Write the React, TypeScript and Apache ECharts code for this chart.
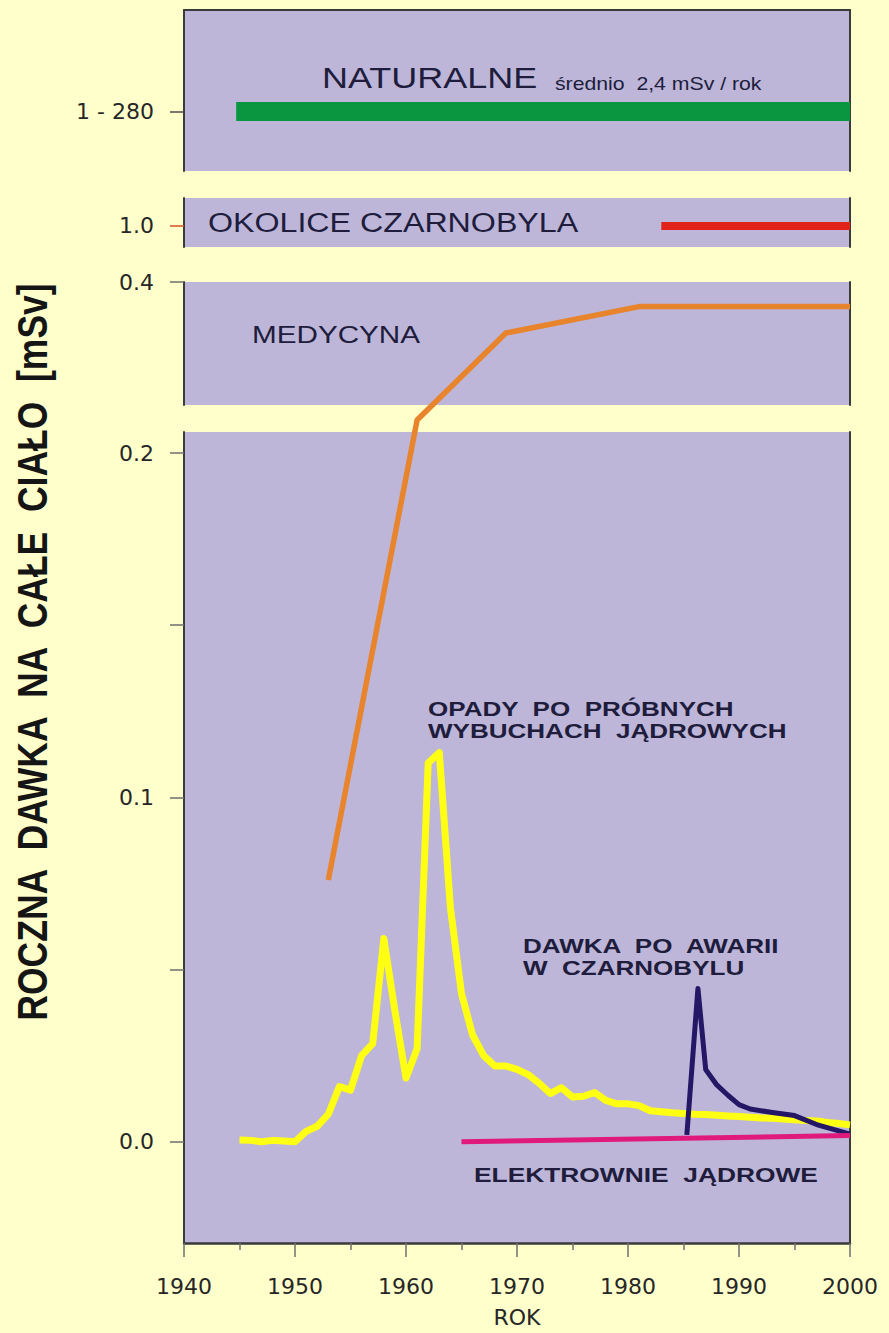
import React, { useEffect, useRef } from "react";
import * as echarts from "echarts";

// ---------- data ----------
const xTickYears = [1940, 1950, 1960, 1970, 1980, 1990, 2000];

const naturalTickLabel = ["1 - 280"];
const naturalYears = [1944.7, 2000];
const naturalLevel = [0.37, 0.37];

const chernobylAreaTickLabel = ["1.0"];
const chernobylAreaYears = [1983, 2000];
const chernobylAreaLevel = [0.43, 0.43];

const medicineYears = [1953, 1961, 1969, 1981, 2000];
const medicineDose = [0.076, 0.248, 0.3585, 0.38, 0.38];

const falloutYears = [
  1945, 1946, 1947, 1948, 1949, 1950, 1951, 1952, 1953, 1954, 1955, 1956, 1957, 1958, 1959,
  1960, 1961, 1962, 1963, 1964, 1965, 1966, 1967, 1968, 1969, 1970, 1971, 1972, 1973, 1974,
  1975, 1976, 1977, 1978, 1979, 1980, 1981, 1982, 1983, 1984, 1985, 1986, 1987, 1988, 1989,
  1990, 1991, 1992, 1993, 1994, 1995, 1996, 1997, 1998, 1999, 2000,
];
const falloutDose = [
  0.0005, 0.0004, 0.0, 0.0004, 0.0002, 0.0, 0.003, 0.0045, 0.008, 0.016, 0.015, 0.025, 0.0285, 0.059, 0.038,
  0.0185, 0.027, 0.11, 0.113, 0.068, 0.043, 0.031, 0.025, 0.022, 0.022, 0.021, 0.0195, 0.017, 0.014, 0.0157,
  0.013, 0.0132, 0.0143, 0.012, 0.011, 0.011, 0.0105, 0.009, 0.0087, 0.0084, 0.0082, 0.008, 0.0079, 0.0077, 0.0075,
  0.0073, 0.0071, 0.0069, 0.0068, 0.0066, 0.0064, 0.0062, 0.006, 0.0056, 0.0053, 0.0049,
];

const accidentYears = [1985.3, 1986.3, 1987, 1988, 1989, 1990, 1991, 1993, 1995, 1997, 2000];
const accidentDose = [0.002, 0.0445, 0.021, 0.0165, 0.0135, 0.0108, 0.0095, 0.0085, 0.0076, 0.005, 0.0022];

const nuclearYears = [1965, 2000];
const nuclearDose = [0.0, 0.0018];

const lowerTicks = [0, 0.05, 0.1, 0.15, 0.2];
const lowerLabels = [0, 0.1, 0.2];
const upperLabels = [0.4];

// ---------- layout / style ----------
const BG = "#FFFFCC";
const PANEL = "#BDB6D9";
const AXIS = "#3a3a3a";
const TICK = "#6e6e6e";
const TEXT = "#201c3c";
const LABEL = "#262626";
const FONT = "'Liberation Sans', Arial, Helvetica, sans-serif";
const AXFONT = "'DejaVu Sans', sans-serif";

const LEFT = 184;
const RIGHT = 889 - 850;
const LOWER_TOP = 432;
const LOWER_H = 811;
const UPPER_TOP = 282;
const UPPER_H = 123;
const GAP_PX = LOWER_TOP - (UPPER_TOP + UPPER_H);
const LOWER_MIN = -0.0294;
const LOWER_MAX = 0.2061;
const UPPER_MIN = 0.3;
const UPPER_MAX = 0.4;

// map a dose onto the lower (broken) axis so a line can cross the break
function toLower(v: number): number {
  const ppu = LOWER_H / (LOWER_MAX - LOWER_MIN);
  if (v <= LOWER_MAX) return v;
  if (v <= UPPER_MIN) return LOWER_MAX + ((v - LOWER_MAX) / (UPPER_MIN - LOWER_MAX)) * GAP_PX / ppu;
  return LOWER_MAX + (GAP_PX + ((v - UPPER_MIN) / (UPPER_MAX - UPPER_MIN)) * UPPER_H) / ppu;
}

const zip = (xs: number[], ys: number[]) => xs.map((x, i) => [x, ys[i]]);

function buildOption() {
  const gridBase = {
    left: LEFT,
    right: RIGHT,
    show: true,
    backgroundColor: PANEL,
    borderWidth: 0,
    containLabel: false,
    outerBoundsMode: "none",
  };
  const xBase = { type: "value", min: 1940, max: 2000, splitLine: { show: false } };
  const edge = { show: true, onZero: false, lineStyle: { color: AXIS, width: 2 } };
  const rightAxis = (gridIndex: number) => ({
    type: "value",
    gridIndex,
    position: "right",
    axisLine: edge,
    axisTick: { show: false },
    axisLabel: { show: false },
    splitLine: { show: false },
  });
  const labelStyle = { fontFamily: AXFONT, fontSize: 22, color: LABEL, margin: 30 };

  const lineSeries = (name: string, xi: number, data: number[][], color: string, width: number, z: number, clip = true) => ({
    name,
    type: "line",
    xAxisIndex: xi,
    yAxisIndex: xi * 2,
    data,
    symbol: "none",
    showSymbol: false,
    clip,
    z,
    silent: true,
    lineStyle: { color, width, cap: "butt", join: "round" },
  });

  const text = (t: string, x: number, y: number, fs: number, sx: number, bold = false) => ({
    type: "text",
    x,
    y,
    scaleX: sx,
    z: 20,
    silent: true,
    style: {
      text: t,
      fontSize: fs,
      fontFamily: FONT,
      fontWeight: bold ? "bold" : "normal",
      fill: TEXT,
      align: "left",
      verticalAlign: "middle",
    },
  });

  return {
    animation: false,
    backgroundColor: BG,
    grid: [
      { ...gridBase, top: 10, height: 161 },
      { ...gridBase, top: 198, height: 49 },
      { ...gridBase, top: UPPER_TOP, height: UPPER_H },
      { ...gridBase, top: LOWER_TOP, height: LOWER_H },
    ],
    xAxis: [
      { ...xBase, gridIndex: 0, position: "top", axisLine: edge, axisTick: { show: false }, axisLabel: { show: false } },
      { ...xBase, gridIndex: 1, show: false },
      { ...xBase, gridIndex: 2, show: false },
      {
        ...xBase,
        gridIndex: 3,
        position: "bottom",
        interval: 10,
        axisLine: { show: true, onZero: false, lineStyle: { color: AXIS, width: 2.5 } },
        axisTick: { show: true, length: 14, customValues: xTickYears, lineStyle: { color: TICK, width: 1.5 } },
        minorTick: { show: true, splitNumber: 2, length: 7, lineStyle: { color: TICK, width: 1.5 } },
        axisLabel: { ...labelStyle, margin: 32, customValues: xTickYears, formatter: (v: number) => String(v) },
        name: "ROK",
        nameLocation: "middle",
        nameGap: 63,
        nameTextStyle: { fontFamily: AXFONT, fontSize: 22, color: LABEL },
      },
    ],
    yAxis: [
      {
        type: "value",
        gridIndex: 0,
        min: 0,
        max: 1,
        axisLine: edge,
        axisTick: { show: true, length: 14, customValues: [naturalLevel[0]], lineStyle: { color: "#4a4a4a", width: 1.5 } },
        axisLabel: { ...labelStyle, customValues: [naturalLevel[0]], formatter: () => naturalTickLabel[0] },
        splitLine: { show: false },
      },
      rightAxis(0),
      {
        type: "value",
        gridIndex: 1,
        min: 0,
        max: 1,
        axisLine: edge,
        axisTick: { show: true, length: 14, customValues: [chernobylAreaLevel[0]], lineStyle: { color: "#d4502a", width: 1.5 } },
        axisLabel: { ...labelStyle, customValues: [chernobylAreaLevel[0]], formatter: () => chernobylAreaTickLabel[0] },
        splitLine: { show: false },
      },
      rightAxis(1),
      {
        type: "value",
        gridIndex: 2,
        min: UPPER_MIN,
        max: UPPER_MAX,
        axisLine: edge,
        axisTick: { show: true, length: 14, customValues: upperLabels, lineStyle: { color: TICK, width: 1.5 } },
        axisLabel: { ...labelStyle, customValues: upperLabels, formatter: (v: number) => v.toFixed(1) },
        splitLine: { show: false },
      },
      rightAxis(2),
      {
        type: "value",
        gridIndex: 3,
        min: LOWER_MIN,
        max: LOWER_MAX,
        axisLine: edge,
        axisTick: { show: true, length: 14, customValues: lowerTicks, lineStyle: { color: TICK, width: 1.5 } },
        axisLabel: { ...labelStyle, customValues: lowerLabels, formatter: (v: number) => v.toFixed(1) },
        splitLine: { show: false },
      },
      rightAxis(3),
    ],
    series: [
      lineSeries("Naturalne", 0, zip(naturalYears, naturalLevel), "#0a9641", 19, 3),
      lineSeries("Okolice Czarnobyla", 1, zip(chernobylAreaYears, chernobylAreaLevel), "#e2231c", 8, 3),
      lineSeries("Medycyna", 3, medicineYears.map((y, i) => [y, toLower(medicineDose[i])]), "#e8842c", 5.5, 4, false),
      lineSeries("Opady", 3, zip(falloutYears, falloutDose), "#ffff14", 7, 3),
      lineSeries("Awaria w Czarnobylu", 3, zip(accidentYears, accidentDose), "#231766", 5, 5),
      lineSeries("Elektrownie jądrowe", 3, zip(nuclearYears, nuclearDose), "#e01a7d", 5, 6),
    ],
    graphic: [
      text("NATURALNE", 322, 78, 30, 1.2),
      text("średnio  2,4 mSv / rok", 555, 84, 18, 1.18),
      text("OKOLICE CZARNOBYLA", 208, 222, 28, 1.15),
      text("MEDYCYNA", 252, 335, 23, 1.29),
      text("OPADY  PO  PRÓBNYCH", 428, 709, 20.5, 1.27, true),
      text("WYBUCHACH  JĄDROWYCH", 428, 731, 20.5, 1.27, true),
      text("DAWKA  PO  AWARII", 523, 946, 20.5, 1.27, true),
      text("W  CZARNOBYLU", 523, 968, 20.5, 1.27, true),
      text("ELEKTROWNIE  JĄDROWE", 474, 1175, 21, 1.255, true),
      {
        type: "text",
        x: 32,
        y: 652,
        rotation: Math.PI / 2,
        scaleX: 0.845,
        z: 20,
        silent: true,
        style: {
          text: "ROCZNA  DAWKA  NA  CAŁE  CIAŁO  [mSv]",
          fontSize: 42,
          fontFamily: FONT,
          fontWeight: "bold",
          fill: "#151515",
          align: "center",
          verticalAlign: "middle",
        },
      },
    ],
  };
}

export default function App() {
  const ref = useRef<HTMLDivElement | null>(null);
  useEffect(() => {
    if (!ref.current) return;
    const chart = echarts.init(ref.current, null, { renderer: "svg" });
    chart.setOption(buildOption() as any);
    return () => chart.dispose();
  }, []);
  return (
    <div
      ref={ref}
      style={{ position: "absolute", left: 0, top: 0, width: 889, height: 1333, background: BG }}
    />
  );
}
